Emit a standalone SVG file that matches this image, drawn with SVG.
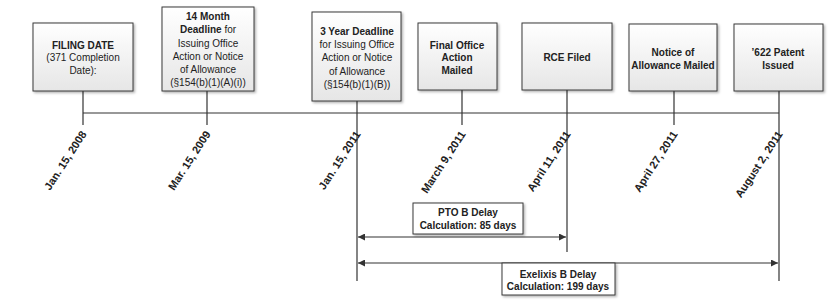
<svg xmlns="http://www.w3.org/2000/svg" width="830" height="307" viewBox="0 0 830 307">
<style>
text{font-family:"Liberation Sans",Arial,sans-serif;font-size:10px;fill:#222;text-anchor:middle}
.b{font-weight:bold}
.box{fill:url(#g);stroke:#3a3a3a;stroke-width:1;filter:url(#sh)}
.lbl{fill:#fff;stroke:#3a3a3a;stroke-width:1;filter:url(#sh)}
.ln{stroke:#333;stroke-width:1.2;fill:none}
.date{font-weight:bold;text-anchor:end;font-size:11px}
</style>
<defs>
<linearGradient id="g" x1="0" y1="0" x2="0" y2="1"><stop offset="0" stop-color="#ffffff"/><stop offset="1" stop-color="#e6e6e6"/></linearGradient>
<filter id="sh" x="-10%" y="-10%" width="130%" height="130%"><feDropShadow dx="1.5" dy="1.5" stdDeviation="1" flood-color="#000" flood-opacity="0.3"/></filter>
<marker id="ah" viewBox="0 0 10 10" refX="10" refY="5" markerWidth="8" markerHeight="7" orient="auto-start-reverse" markerUnits="userSpaceOnUse"><path d="M0,0 L10,5 L0,10 z" fill="#333"/></marker>
</defs>
<g id="connectors">
<path class="ln" d="M83,113 H779"/>
<path class="ln" d="M83,91 V125"/>
<path class="ln" d="M207,91 V125"/>
<path class="ln" d="M357,101 V281"/>
<path class="ln" d="M462,90 V125"/>
<path class="ln" d="M567,90 V252"/>
<path class="ln" d="M674,91 V125"/>
<path class="ln" d="M779,91 V281"/>
<path class="ln" d="M358,237 H566" marker-start="url(#ah)" marker-end="url(#ah)"/>
<path class="ln" d="M358,263 H778" marker-start="url(#ah)" marker-end="url(#ah)"/>
</g>
<g id="dates">
<text class="date" transform="translate(87,134) rotate(-57)">Jan. 15, 2008</text>
<text class="date" transform="translate(211,134) rotate(-57)">Mar. 15, 2009</text>
<text class="date" transform="translate(361,134) rotate(-57)">Jan. 15, 2011</text>
<text class="date" transform="translate(466,134) rotate(-57)">March 9, 2011</text>
<text class="date" transform="translate(571,134) rotate(-57)">April 11, 2011</text>
<text class="date" transform="translate(678,134) rotate(-57)">April 27, 2011</text>
<text class="date" transform="translate(783,134) rotate(-57)">August 2, 2011</text>
</g>
<g id="filing">
<rect class="box" x="33" y="23" width="100" height="68"/>
<text x="83" y="49" class="b">FILING DATE</text>
<text x="83" y="61">(371 Completion</text>
<text x="83" y="74">Date):</text>
</g>
<g id="month14">
<rect class="box" x="162" y="7" width="92" height="84"/>
<text x="208" y="20" class="b">14 Month</text>
<text x="208" y="33"><tspan class="b">Deadline</tspan> for</text>
<text x="208" y="47">Issuing Office</text>
<text x="208" y="60">Action or Notice</text>
<text x="208" y="73">of Allowance</text>
<text x="208" y="86">(§154(b)(1)(A)(i))</text>
</g>
<g id="year3">
<rect class="box" x="312" y="12" width="89" height="89"/>
<text x="357" y="35" class="b">3 Year Deadline</text>
<text x="357" y="48">for Issuing Office</text>
<text x="357" y="61">Action or Notice</text>
<text x="357" y="75">of Allowance</text>
<text x="357" y="88">(§154(b)(1)(B))</text>
</g>
<g id="final">
<rect class="box" x="418" y="23" width="79" height="67"/>
<text x="457" y="49" class="b">Final Office</text>
<text x="457" y="61" class="b">Action</text>
<text x="457" y="74" class="b">Mailed</text>
</g>
<g id="rce">
<rect class="box" x="522" y="23" width="90" height="67"/>
<text x="567" y="61" class="b">RCE Filed</text>
</g>
<g id="noa">
<rect class="box" x="629" y="24" width="88" height="67"/>
<text x="673" y="56" class="b">Notice of</text>
<text x="673" y="69" class="b">Allowance Mailed</text>
</g>
<g id="issued">
<rect class="box" x="734" y="24" width="89" height="67"/>
<text x="778" y="56" class="b">’622 Patent</text>
<text x="778" y="69" class="b">Issued</text>
</g>
<g id="pto">
<rect class="lbl" x="413" y="203" width="110" height="31"/>
<text x="468" y="216" class="b">PTO B Delay</text>
<text x="468" y="229" class="b">Calculation: 85 days</text>
</g>
<g id="exelixis">
<rect class="lbl" x="502" y="263" width="113" height="32"/>
<text x="558" y="278" class="b">Exelixis B Delay</text>
<text x="558" y="290" class="b">Calculation: 199 days</text>
</g>
</svg>
